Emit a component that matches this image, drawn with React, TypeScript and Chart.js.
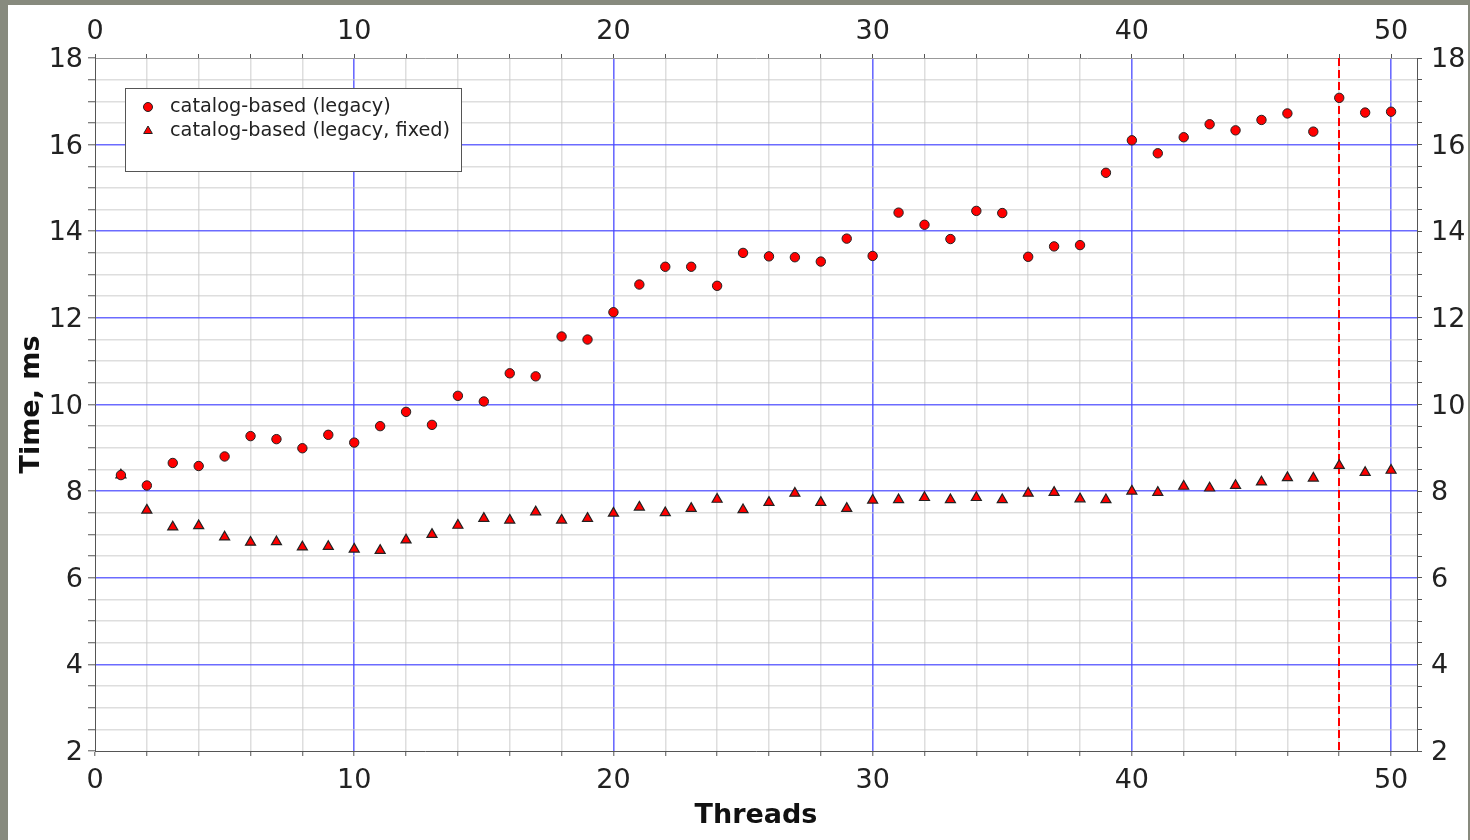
import React, { useEffect, useRef } from 'react';
import { Chart, registerables } from 'chart.js';

Chart.register(...registerables);

const threads = [
  1, 2, 3, 4, 5, 6, 7, 8, 9, 10, 11, 12, 13, 14, 15, 16, 17, 18, 19, 20, 21, 22, 23, 24, 25,
  26, 27, 28, 29, 30, 31, 32, 33, 34, 35, 36, 37, 38, 39, 40, 41, 42, 43, 44, 45, 46, 47, 48, 49, 50,
];

const legacy = [
  8.37, 8.13, 8.65, 8.58, 8.8, 9.27, 9.2, 8.99, 9.3, 9.12,
  9.5, 9.83, 9.53, 10.2, 10.07, 10.72, 10.65, 11.57, 11.5, 12.13,
  12.77, 13.18, 13.18, 12.74, 13.5, 13.42, 13.4, 13.3, 13.83, 13.43,
  14.43, 14.15, 13.82, 14.47, 14.42, 13.41, 13.65, 13.68, 15.35, 16.1,
  15.8, 16.17, 16.47, 16.33, 16.57, 16.72, 16.3, 17.08, 16.74, 16.76,
];

const legacyFixed = [
  8.37, 7.56, 7.17, 7.2, 6.94, 6.82, 6.83, 6.71, 6.72, 6.66,
  6.63, 6.87, 7.0, 7.21, 7.37, 7.33, 7.52, 7.33, 7.37, 7.49,
  7.63, 7.5, 7.6, 7.81, 7.57, 7.74, 7.95, 7.74, 7.6, 7.79,
  7.8, 7.85, 7.8, 7.85, 7.8, 7.95, 7.97, 7.82, 7.8, 8.0,
  7.97, 8.11, 8.07, 8.13, 8.21, 8.31, 8.3, 8.59, 8.43, 8.48,
];

const seriesLabels = ['catalog-based (legacy)', 'catalog-based (legacy, fixed)'];

const xTickValues = [0, 2, 4, 6, 8, 10, 12, 14, 16, 18, 20, 22, 24, 26, 28, 30, 32, 34, 36, 38, 40, 42, 44, 46, 48, 50];
const xLabelValues = [0, 10, 20, 30, 40, 50];
const yTickValues = [
  2, 2.5, 3, 3.5, 4, 4.5, 5, 5.5, 6, 6.5, 7, 7.5, 8, 8.5, 9, 9.5, 10,
  10.5, 11, 11.5, 12, 12.5, 13, 13.5, 14, 14.5, 15, 15.5, 16, 16.5, 17, 17.5, 18,
];
const yLabelValues = [2, 4, 6, 8, 10, 12, 14, 16, 18];

const markerThread = 48;
const xTitle = 'Threads';
const yTitle = 'Time, ms';

const FONT = 'DejaVu Sans';
const BLUE = 'rgba(70,70,255,0.8)';
const GRAY = 'rgba(200,200,200,0.6)';
const AXIS = '#555555';
const TEXT = '#222222';

const dashedMarker = {
  id: 'dashedMarker',
  beforeDatasetsDraw(chart: any) {
    const { ctx, chartArea, scales } = chart;
    const px = Math.round(scales.x.getPixelForValue(markerThread));
    ctx.save();
    ctx.strokeStyle = '#ff0000';
    ctx.lineWidth = 2;
    ctx.setLineDash([8, 4]);
    ctx.beginPath();
    ctx.moveTo(px, chartArea.top);
    ctx.lineTo(px, chartArea.bottom);
    ctx.stroke();
    ctx.restore();
  },
};

const boxLegend = {
  id: 'boxLegend',
  afterDatasetsDraw(chart: any) {
    const ctx = chart.ctx;
    const x0 = 117, y0 = 83, w = 336, h = 83;
    ctx.save();
    ctx.fillStyle = '#ffffff';
    ctx.fillRect(x0, y0, w, h);
    ctx.strokeStyle = '#555555';
    ctx.lineWidth = 1;
    ctx.strokeRect(x0 + 0.5, y0 + 0.5, w, h);
    chart.data.datasets.forEach((ds: any, i: number) => {
      const cy = y0 + 19 + i * 24;
      const cx = 140;
      ctx.fillStyle = '#ff0000';
      ctx.strokeStyle = '#222222';
      ctx.lineWidth = 1;
      ctx.beginPath();
      if (ds.pointStyle === 'triangle') {
        const r = 5;
        ctx.moveTo(cx, cy - r);
        ctx.lineTo(cx + r * 0.866, cy + r * 0.5);
        ctx.lineTo(cx - r * 0.866, cy + r * 0.5);
        ctx.closePath();
      } else {
        ctx.arc(cx, cy, 4.5, 0, Math.PI * 2);
      }
      ctx.fill();
      ctx.stroke();
      ctx.fillStyle = TEXT;
      ctx.font = `19.3px "${FONT}"`;
      ctx.textBaseline = 'middle';
      ctx.textAlign = 'left';
      ctx.fillText(ds.label, 162, cy);
    });
    ctx.restore();
  },
};

const xTicksSetter = (axis: any) => {
  axis.ticks = xTickValues.map((v) => ({ value: v }));
};
const yTicksSetter = (axis: any) => {
  axis.ticks = yTickValues.map((v) => ({ value: v }));
};
const xLabel = (v: any) => (xLabelValues.includes(Number(v)) ? String(v) : '');
const yLabel = (v: any) => (yLabelValues.includes(Number(v)) ? String(v) : '');
const isXMajor = (c: any) => c.tick && xLabelValues.includes(c.tick.value);
const isYMajor = (c: any) => c.tick && yLabelValues.includes(c.tick.value);
const xEdge = (c: any) => c.tick && c.tick.value === xTickValues[0];
const yEdge = (c: any) =>
  c.tick && (c.tick.value === yTickValues[0] || c.tick.value === yTickValues[yTickValues.length - 1]);

export default function App() {
  const ref = useRef<HTMLCanvasElement | null>(null);

  useEffect(() => {
    document.body.style.margin = '0';
    if (!ref.current) return;
    const tickFont = { family: FONT, size: 27 };
    const chart = new Chart(ref.current, {
      type: 'scatter',
      data: {
        datasets: [
          {
            label: seriesLabels[0],
            data: threads.map((t, i) => ({ x: t, y: legacy[i] })),
            pointStyle: 'circle',
            pointRadius: 4.7,
            pointBackgroundColor: '#ff0000',
            pointBorderColor: '#222222',
            pointBorderWidth: 1,
            showLine: false,
          },
          {
            label: seriesLabels[1],
            data: threads.map((t, i) => ({ x: t, y: legacyFixed[i] })),
            pointStyle: 'triangle',
            pointRadius: 5.8,
            pointBackgroundColor: '#ff0000',
            pointBorderColor: '#222222',
            pointBorderWidth: 1.2,
            showLine: false,
          },
        ],
      },
      options: {
        responsive: false,
        animation: false,
        events: [],
        layout: { padding: 0 },
        plugins: { legend: { display: false }, tooltip: { enabled: false } },
        scales: {
          x: {
            type: 'linear',
            position: 'bottom',
            min: 0,
            max: 51,
            afterBuildTicks: xTicksSetter,
            afterFit: (s: any) => { s.height = 89; },
            ticks: { callback: xLabel, autoSkip: false, maxRotation: 0, font: tickFont, color: TEXT, padding: 9 },
            grid: {
              color: (c: any) => (xEdge(c) ? 'rgba(0,0,0,0)' : isXMajor(c) ? BLUE : GRAY),
              lineWidth: (c: any) => (isXMajor(c) ? 1.6 : 1.5),
              tickColor: AXIS,
              tickLength: 5,
              tickWidth: 1,
            },
            border: { color: AXIS, width: 1 },
            title: {
              display: true,
              text: xTitle,
              font: { family: FONT, size: 27, weight: 'bold' },
              color: '#111111',
              padding: { top: 0, bottom: 8 },
            },
          },
          x2: {
            type: 'linear',
            position: 'top',
            min: 0,
            max: 51,
            afterBuildTicks: xTicksSetter,
            afterFit: (s: any) => { s.height = 53; },
            ticks: { callback: xLabel, autoSkip: false, maxRotation: 0, font: tickFont, color: TEXT, padding: 6 },
            grid: { drawOnChartArea: false, tickColor: AXIS, tickLength: 4 },
            border: { color: '#999999', width: 1 },
          },
          y: {
            type: 'linear',
            position: 'left',
            min: 2,
            max: 18,
            afterBuildTicks: yTicksSetter,
            afterFit: (s: any) => { s.width = 87; },
            ticks: { callback: yLabel, autoSkip: false, font: tickFont, color: TEXT, padding: 5, labelOffset: 2 },
            grid: {
              color: (c: any) => (yEdge(c) ? 'rgba(0,0,0,0)' : isYMajor(c) ? BLUE : GRAY),
              lineWidth: (c: any) => (isYMajor(c) ? 1.6 : 1.5),
              tickColor: AXIS,
              tickLength: 7,
              tickWidth: 1,
            },
            border: { color: AXIS, width: 1 },
            title: {
              display: true,
              text: yTitle,
              font: { family: FONT, size: 27, weight: 'bold' },
              color: '#111111',
              padding: { top: 8, bottom: 0 },
            },
          },
          y2: {
            type: 'linear',
            position: 'right',
            min: 2,
            max: 18,
            afterBuildTicks: yTicksSetter,
            afterFit: (s: any) => { s.width = 51; },
            ticks: { callback: yLabel, autoSkip: false, font: tickFont, color: TEXT, padding: 9, labelOffset: 2 },
            grid: { drawOnChartArea: false, tickColor: AXIS, tickLength: 5 },
            border: { color: AXIS, width: 1 },
          },
        },
      } as any,
      plugins: [dashedMarker, boxLegend],
    });
    return () => chart.destroy();
  }, []);

  return (
    <div style={{ position: 'fixed', left: 0, top: 0, width: 1470, height: 840, background: '#878a7e', overflow: 'hidden' }}>
      <div style={{ position: 'absolute', left: 8, top: 5, width: 1460, height: 835, background: '#ffffff' }}>
        <canvas ref={ref} width={1460} height={835} style={{ display: 'block', width: 1460, height: 835 }} />
      </div>
    </div>
  );
}
